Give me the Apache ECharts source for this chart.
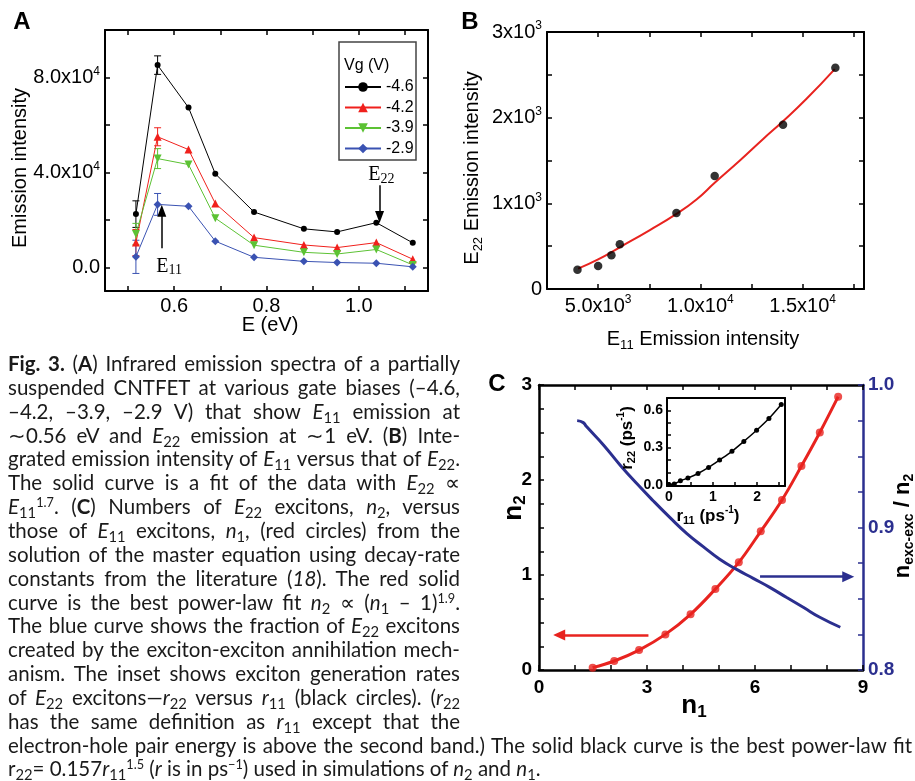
<!DOCTYPE html>
<html><head><meta charset="utf-8">
<script src="https://cdn.jsdelivr.net/npm/echarts@6/dist/echarts.min.js"></script>
<style>
html,body{margin:0;padding:0;background:#fff;}
#chart{position:absolute;left:0;top:0;width:915px;height:781px;}
#caption{position:absolute;left:0;top:0;width:915px;height:781px;pointer-events:none;font-family:Lato,'Noto Sans',sans-serif;font-size:20.5px;color:#1a1a1a;}
.ln{position:absolute;white-space:nowrap;height:24px;line-height:24px;}
.ln sub{font-size:0.72em;vertical-align:-0.3em;line-height:0;}
.ln sup{font-size:0.62em;vertical-align:0.55em;line-height:0;}
</style></head>
<body>
<div id="chart"></div>
<div id="caption"></div>
<script>
// ---------- Panel A data ----------
const energyEv = [0.517, 0.564, 0.631, 0.689, 0.773, 0.881, 0.953, 1.038, 1.117];
const vgNames = ['-4.6', '-4.2', '-3.9', '-2.9'];
const intensityVg46 = [22400, 85200, 67300, 39400, 23300, 16200, 14900, 18800, 10300];
const intensityVg42 = [10400, 55000, 49600, 26900, 12500, 9400, 8300, 10400, 3400];
const intensityVg39 = [14000, 45800, 43300, 20700, 9300, 6300, 5600, 7500, 1000];
const intensityVg29 = [4400, 26500, 25700, 11000, 4200, 2500, 2000, 1700, 200];
const errVg46 = [5600, 3900, 0, 0, 0, 0, 0, 0, 0];
const errVg42 = [5500, 3800, 0, 0, 0, 0, 0, 0, 0];
const errVg39 = [4500, 4200, 0, 0, 0, 0, 0, 0, 0];
const errVg29 = [7000, 4600, 0, 0, 0, 0, 0, 0, 0];
const tickA_x = [0.5, 0.6, 0.7, 0.8, 0.9, 1.0, 1.1];
const labelA_x = [0.6, 0.8, 1.0];
const tickA_y = [0, 20000, 40000, 60000, 80000];
const labelA_y = [0, 40000, 80000];
const labelA_yText = ['0.0', '4.0x10', '8.0x10'];
const arrowE11 = [[0.573, 8000], [0.573, 23800]];
const arrowE22 = [[1.045, 34600], [1.045, 21200]];
const labelE11Pos = [0.589, 400];
const labelE22Pos = [1.049, 38900];

// ---------- Panel B data ----------
const e11Intensity = [3990, 5000, 5650, 6060, 8830, 10700, 14040, 16600];
const e22Intensity = [226, 268, 393, 522, 887, 1319, 1918, 2583];
const fitE11 = [4020, 5000, 6060, 7530, 8830, 9810, 10700, 11930, 13070, 14040, 15190, 16570];
const fitE22 = [238, 345, 487, 688, 876, 1045, 1240, 1500, 1752, 1958, 2220, 2567];
const tickB_x = [2500, 5000, 7500, 10000, 12500, 15000, 17500];
const labelB_x = [5000, 10000, 15000];
const labelB_xText = [['5.0x10', '3'], ['1.0x10', '4'], ['1.5x10', '4']];
const tickB_y = [0, 500, 1000, 1500, 2000, 2500, 3000];
const labelB_y = [0, 1000, 2000, 3000];
const labelB_yText = [['0', ''], ['1x10', '3'], ['2x10', '3'], ['3x10', '3']];

// ---------- Panel C data ----------
const n1Sim = [1.49, 2.09, 2.78, 3.51, 4.21, 4.90, 5.55, 6.16, 6.75, 7.29, 7.80, 8.31];
const n2Sim = [0.025, 0.095, 0.21, 0.375, 0.586, 0.853, 1.133, 1.46, 1.79, 2.147, 2.50, 2.877];
const n1Frac = [1.06, 1.23, 1.32, 1.79, 2.25, 2.71, 3.17, 3.64, 4.10, 4.56, 5.02, 5.49, 5.95, 6.41, 6.87, 7.34, 7.80, 8.37];
const fracExc = [0.975, 0.9736, 0.9708, 0.9579, 0.9439, 0.931, 0.9188, 0.9069, 0.8959, 0.8866, 0.8777, 0.8706, 0.8643, 0.858, 0.851, 0.844, 0.837, 0.830];
const tickC_x = [0, 1, 2, 3, 4, 5, 6, 7, 8, 9];
const labelC_x = [0, 3, 6, 9];
const tickC_y = [0, 0.25, 0.5, 0.75, 1, 1.25, 1.5, 1.75, 2, 2.25, 2.5, 2.75, 3];
const labelC_y = [0, 1, 2, 3];
const tickC_y2 = [0.8, 0.825, 0.85, 0.875, 0.9, 0.925, 0.95, 0.975, 1.0];
const labelC_y2 = [0.8, 0.9, 1.0];
const arrowRed = [[3.04, 0.368], [0.56, 0.368]];
const arrowBlue = [[6.14, 0.8655], [8.59, 0.8655]];

// ---------- Inset data ----------
const r11 = [0, 0.12, 0.26, 0.43, 0.66, 0.90, 1.15, 1.43, 1.70, 1.99, 2.27, 2.55];
const r22 = [0.002, 0.007, 0.032, 0.054, 0.091, 0.14, 0.20, 0.27, 0.35, 0.44, 0.535, 0.648];
const tickI_x = [0, 0.5, 1, 1.5, 2, 2.5];
const labelI_x = [0, 1, 2];
const tickI_y = [0, 0.1, 0.2, 0.3, 0.4, 0.5, 0.6];
const labelI_y = [0, 0.3, 0.6];

// ---------- Styles ----------
const SANS = "'Liberation Sans', Arial, Helvetica, sans-serif";
const SERIF = "'Liberation Serif', 'Times New Roman', serif";
const RED_C = '#e8231f', BLUE_C = '#2b2f8f';
const colA = ['#000000', '#f0201c', '#5cc234', '#3a52b2'];
const symA = ['circle', 'triangle', 'path://M0,0 L10,0 L5,9 Z', 'diamond'];
const sizeA = [6, 8, 8, 8];
const valsA = [intensityVg46, intensityVg42, intensityVg39, intensityVg29];
const errsA = [errVg46, errVg42, errVg39, errVg29];

const richSup = (fs, bold) => ({
  b: {fontFamily: SANS, fontSize: fs, color: '#000', fontWeight: bold ? 'bold' : 'normal', lineHeight: fs + 4},
  s: {fontFamily: SANS, fontSize: Math.round(fs * 0.6), color: '#000', verticalAlign: 'top', lineHeight: Math.round(fs * 0.6) + 2}
});

function xAx(grid, min, max, pos, ticks, labels, fmt, extra) {
  return Object.assign({
    type: 'value', gridIndex: grid, min, max, position: pos,
    axisLine: {onZero: false, lineStyle: {color: '#000', width: 2}},
    axisTick: ticks ? {show: true, inside: true, length: 5, customValues: ticks, lineStyle: {color: '#000', width: 1.5}} : {show: false},
    axisLabel: labels ? {show: true, customValues: labels, formatter: fmt, fontFamily: SANS, fontSize: 20, color: '#000', margin: 6} : {show: false},
    splitLine: {show: false}
  }, extra || {});
}

function errSeries(vals, errs, color) {
  const data = [];
  energyEv.forEach((x, i) => { if (errs[i] > 0) data.push([x, vals[i] - errs[i], vals[i] + errs[i]]); });
  return {
    type: 'custom', xAxisIndex: 0, yAxisIndex: 0, silent: true, z: 1,
    encode: {x: 0, y: [1, 2]},
    data,
    renderItem(params, api) {
      const lo = api.coord([api.value(0), api.value(1)]);
      const hi = api.coord([api.value(0), api.value(2)]);
      const w = 3.5, st = {stroke: color, lineWidth: 1};
      return {type: 'group', children: [
        {type: 'line', shape: {x1: lo[0], y1: lo[1], x2: hi[0], y2: hi[1]}, style: st},
        {type: 'line', shape: {x1: lo[0] - w, y1: lo[1], x2: lo[0] + w, y2: lo[1]}, style: st},
        {type: 'line', shape: {x1: hi[0] - w, y1: hi[1], x2: hi[0] + w, y2: hi[1]}, style: st}
      ]};
    }
  };
}

function arrowLine(pts, color, width, head) {
  return {
    silent: true, animation: false, label: {show: false},
    lineStyle: {color, width, type: 'solid'},
    data: [[{coord: pts[0], symbol: 'none'}, {coord: pts[1], symbol: 'triangle', symbolSize: head}]]
  };
}

const seriesA = vgNames.map((name, k) => ({
  name, type: 'line', xAxisIndex: 0, yAxisIndex: 0,
  data: energyEv.map((x, i) => [x, valsA[k][i]]),
  symbol: symA[k], symbolSize: sizeA[k], showAllSymbol: true,
  lineStyle: {color: colA[k], width: 1}, itemStyle: {color: colA[k]}, z: 3,
  animation: false
}));
seriesA[0].markLine = {
  silent: true, animation: false, label: {show: false}, lineStyle: {color: '#000', width: 1.5, type: 'solid'},
  data: [
    [{coord: arrowE11[0], symbol: 'none'}, {coord: arrowE11[1], symbol: 'triangle', symbolSize: [9, 12]}],
    [{coord: arrowE22[0], symbol: 'none'}, {coord: arrowE22[1], symbol: 'triangle', symbolSize: [9, 12]}]
  ]
};
const serifRich = {
  e: {fontFamily: SERIF, fontSize: 20, color: '#000', lineHeight: 22},
  s: {fontFamily: SERIF, fontSize: 14, color: '#000', verticalAlign: 'bottom', lineHeight: 14}
};
seriesA[0].markPoint = {
  silent: true, animation: false, symbol: 'circle', symbolSize: 0,
  data: [
    {coord: labelE11Pos, label: {show: true, position: 'inside', formatter: '{e|E}{s|11}', rich: serifRich}},
    {coord: labelE22Pos, label: {show: true, position: 'inside', formatter: '{e|E}{s|22}', rich: serifRich}}
  ]
};

const boldRich = (fs, color) => ({
  b: {fontFamily: SANS, fontSize: fs, fontWeight: 'bold', color, lineHeight: fs + 4},
  sub: {fontFamily: SANS, fontSize: Math.round(fs * 0.65), fontWeight: 'bold', color, verticalAlign: 'bottom', lineHeight: Math.round(fs * 0.65)},
  sup: {fontFamily: SANS, fontSize: Math.round(fs * 0.6), fontWeight: 'bold', color, verticalAlign: 'top', lineHeight: Math.round(fs * 0.6)}
});
const plainRich = (fs) => ({
  b: {fontFamily: SANS, fontSize: fs, color: '#000', lineHeight: fs + 6},
  sub: {fontFamily: SANS, fontSize: Math.round(fs * 0.65), color: '#000', verticalAlign: 'bottom', lineHeight: Math.round(fs * 0.65)}
});

function gtext(x, y, text, opt) {
  opt = opt || {};
  return {
    type: 'text', x, y, rotation: opt.rot || 0, z: 100, silent: true,
    style: {
      text, align: opt.align || 'center', verticalAlign: 'middle',
      fontFamily: SANS, fontSize: opt.fs || 20, fontWeight: opt.bold ? 'bold' : 'normal',
      fill: opt.color || '#000', rich: opt.rich
    }
  };
}

const option = {
  animation: false,
  backgroundColor: 'transparent',
  grid: [
    {left: 105, top: 30, width: 323, height: 261},
    {left: 547, top: 32, width: 317, height: 257},
    {left: 539, top: 385, width: 324, height: 285},
    {left: 667, top: 398, width: 118, height: 88, show: true, backgroundColor: '#fff', borderWidth: 0, z: 5}
  ],
  legend: {
    data: vgNames, orient: 'vertical', left: 344, top: 79, padding: 0,
    itemWidth: 36, itemHeight: 12, itemGap: 4.5, selectedMode: false,
    textStyle: {fontFamily: SANS, fontSize: 16, color: '#000', lineHeight: 12}
  },
  xAxis: [
    xAx(0, 0.45, 1.15, 'bottom', tickA_x, labelA_x, v => v.toFixed(1)),
    xAx(0, 0.45, 1.15, 'top', tickA_x, null),
    xAx(1, 2500, 18000, 'bottom', tickB_x, labelB_x, v => {
      const t = labelB_xText[labelB_x.indexOf(v)]; return '{b|' + t[0] + '}{s|' + t[1] + '}';
    }, {}),
    xAx(1, 2500, 18000, 'top', tickB_x, null),
    xAx(2, 0, 9, 'bottom', tickC_x, labelC_x, v => String(v)),
    xAx(2, 0, 9, 'top', tickC_x, null),
    xAx(3, -0.045, 2.635, 'bottom', tickI_x, labelI_x, v => String(v)),
    xAx(3, -0.045, 2.635, 'top', null, null)
  ],
  yAxis: [
    xAx(0, -10000, 100000, 'left', tickA_y, labelA_y, v => {
      const t = labelA_yText[labelA_y.indexOf(v)]; return v === 0 ? '{b|' + t + '}' : '{b|' + t + '}{s|4}';
    }),
    xAx(0, -10000, 100000, 'right', tickA_y, null),
    xAx(1, 0, 3000, 'left', tickB_y, labelB_y, v => {
      const t = labelB_yText[labelB_y.indexOf(v)]; return t[1] ? '{b|' + t[0] + '}{s|' + t[1] + '}' : '{b|' + t[0] + '}';
    }),
    xAx(1, 0, 3000, 'right', tickB_y, null),
    xAx(2, 0, 3, 'left', tickC_y, labelC_y, v => String(v)),
    xAx(2, 0.8, 1.0, 'right', tickC_y2, labelC_y2, v => v.toFixed(1)),
    xAx(3, -0.01, 0.70, 'left', tickI_y, labelI_y, v => v.toFixed(1)),
    xAx(3, -0.01, 0.70, 'right', null, null)
  ],
  series: [
    ...errsA.map((e, k) => errSeries(valsA[k], e, colA[k])),
    ...seriesA,
    {type: 'line', xAxisIndex: 2, yAxisIndex: 2, data: fitE11.map((x, i) => [x, fitE22[i]]),
      smooth: 0.5, showSymbol: false, lineStyle: {color: RED_C, width: 2}, z: 2},
    {type: 'scatter', xAxisIndex: 2, yAxisIndex: 2, data: e11Intensity.map((x, i) => [x, e22Intensity[i]]),
      symbol: 'circle', symbolSize: 8.5, itemStyle: {color: '#000'}, z: 3},
    {type: 'line', xAxisIndex: 4, yAxisIndex: 4, data: n1Sim.map((x, i) => [x, n2Sim[i]]),
      smooth: 0.4, showSymbol: false, lineStyle: {color: RED_C, width: 3}, z: 3,
      markLine: arrowLine(arrowRed, RED_C, 2.5, [11, 12])},
    {type: 'scatter', xAxisIndex: 4, yAxisIndex: 4, data: n1Sim.map((x, i) => [x, n2Sim[i]]),
      symbol: 'circle', symbolSize: 8, itemStyle: {color: RED_C}, z: 4},
    {type: 'line', xAxisIndex: 4, yAxisIndex: 5, data: n1Frac.map((x, i) => [x, fracExc[i]]),
      smooth: 0.5, showSymbol: false, lineStyle: {color: BLUE_C, width: 3}, z: 3,
      markLine: arrowLine(arrowBlue, BLUE_C, 2.5, [11, 12])},
    {type: 'line', xAxisIndex: 6, yAxisIndex: 6, data: r11.map((x, i) => [x, r22[i]]),
      smooth: 0.3, symbol: 'circle', symbolSize: 5, showAllSymbol: true,
      lineStyle: {color: '#000', width: 1.5}, itemStyle: {color: '#000'}, z: 10}
  ],
  graphic: [
    {type: 'rect', shape: {x: 339, y: 42, width: 77, height: 118}, style: {fill: 'none', stroke: '#444', lineWidth: 1.5}, z: 50, silent: true},
    gtext(344, 66, 'Vg (V)', {fs: 16, align: 'left'}),
    gtext(22, 22, 'A', {fs: 24, bold: true}),
    gtext(470, 22, 'B', {fs: 24, bold: true}),
    gtext(497, 384, 'C', {fs: 24, bold: true}),
    gtext(20, 168, 'Emission intensity', {fs: 20, rot: Math.PI / 2}),
    gtext(270, 325, 'E (eV)', {fs: 20}),
    gtext(472, 168, '{b|E}{sub|22}{b| Emission intensity}', {rot: Math.PI / 2, rich: plainRich(20)}),
    gtext(703, 339, '{b|E}{sub|11}{b| Emission intensity}', {rich: plainRich(20)}),
    gtext(514, 508, '{b|n}{sub|2}', {rot: Math.PI / 2, rich: boldRich(26, '#000')}),
    gtext(694, 706, '{b|n}{sub|1}', {rich: boldRich(26, '#000')}),
    gtext(903, 526, '{b|n}{sub|exc-exc}{b| / n}{sub|2}', {rot: Math.PI / 2, rich: boldRich(22, BLUE_C)}),
    gtext(627, 438, '{b|r}{sub|22}{b| (ps}{sup|-1}{b|)}', {rot: Math.PI / 2, rich: boldRich(17, '#000')}),
    gtext(708, 516, '{b|r}{sub|11}{b| (ps}{sup|-1}{b|)}', {rich: boldRich(17, '#000')})
  ]
};

// Panel A/B tick label rich styles
option.yAxis[0].axisLabel.rich = richSup(20, false);
option.yAxis[0].axisLabel.margin = 5;
option.xAxis[0].axisLabel.margin = 5;
option.yAxis[2].axisLabel.rich = richSup(20, false);
option.yAxis[2].axisLabel.margin = 5;
option.xAxis[2].axisLabel.rich = richSup(20, false);
option.xAxis[2].axisLabel.margin = 5;
// Panel C styles
[4].forEach(i => { option.xAxis[i].axisLabel.fontWeight = 'bold'; option.xAxis[i].axisLabel.fontSize = 19; option.xAxis[i].axisLabel.margin = 8; option.xAxis[i].axisLine.lineStyle.width = 2.5; });
option.xAxis[5].axisLine.lineStyle.width = 2.5;
option.yAxis[4].axisLabel.fontWeight = 'bold'; option.yAxis[4].axisLabel.fontSize = 19; option.yAxis[4].axisLabel.margin = 7;
option.yAxis[4].axisLine.lineStyle.width = 2.5;
const yr = option.yAxis[5];
yr.axisLine.lineStyle = {color: BLUE_C, width: 2.5};
yr.axisTick.lineStyle = {color: BLUE_C, width: 1.5};
yr.axisLabel.color = BLUE_C; yr.axisLabel.fontWeight = 'bold'; yr.axisLabel.fontSize = 19; yr.axisLabel.margin = 5;
// Inset styles
[option.xAxis[6], option.yAxis[6]].forEach(a => { a.axisLabel.fontWeight = 'bold'; a.axisLabel.fontSize = 14; a.axisLabel.margin = 4; a.axisTick.length = 4; });
[6, 7].forEach(i => { option.xAxis[i].axisLine.lineStyle.width = 2; option.yAxis[i].axisLine.lineStyle.width = 2; });
[6, 7].forEach(i => { option.xAxis[i].z = 8; option.yAxis[i].z = 8; });

const chart = echarts.init(document.getElementById('chart'), null, {renderer: 'canvas'});
chart.setOption(option);

// ---------- Caption ----------
const capLines = [
  '<b>Fig. 3.</b> (<b>A</b>) Infrared emission spectra of a partially',
  'suspended CNTFET at various gate biases (–4.6,',
  '–4.2, –3.9, –2.9 V) that show <i>E</i><sub>11</sub> emission at',
  '∼0.56 eV and <i>E</i><sub>22</sub> emission at ∼1 eV. (<b>B</b>) Inte-',
  'grated emission intensity of <i>E</i><sub>11</sub> versus that of <i>E</i><sub>22</sub>.',
  'The solid curve is a fit of the data with <i>E</i><sub>22</sub> ∝',
  '<i>E</i><sub>11</sub><sup>1.7</sup>. (<b>C</b>) Numbers of <i>E</i><sub>22</sub> excitons, <i>n</i><sub>2</sub>, versus',
  'those of <i>E</i><sub>11</sub> excitons, <i>n</i><sub>1</sub>, (red circles) from the',
  'solution of the master equation using decay-rate',
  'constants from the literature (<i>18</i>). The red solid',
  'curve is the best power-law fit <i>n</i><sub>2</sub> ∝ (<i>n</i><sub>1</sub> – 1)<sup>1.9</sup>.',
  'The blue curve shows the fraction of <i>E</i><sub>22</sub> excitons',
  'created by the exciton-exciton annihilation mech-',
  'anism. The inset shows exciton generation rates',
  'of <i>E</i><sub>22</sub> excitons—<i>r</i><sub>22</sub> versus <i>r</i><sub>11</sub> (black circles). (<i>r</i><sub>22</sub>',
  'has the same definition as <i>r</i><sub>11</sub> except that the',
  'electron-hole pair energy is above the second band.) The solid black curve is the best power-law fit',
  'r<sub>22</sub>= 0.157<i>r</i><sub>11</sub><sup>1.5</sup> (<i>r</i> is in ps<sup>−1</sup>) used in simulations of <i>n</i><sub>2</sub> and <i>n</i><sub>1</sub>.'
];
const cap = document.getElementById('caption');
const spans = [];
capLines.forEach((html, i) => {
  const d = document.createElement('div');
  d.className = 'ln';
  d.style.left = '8px';
  d.style.top = (351 + i * 23.85) + 'px';
  const s = document.createElement('span');
  s.innerHTML = html;
  d.appendChild(s);
  cap.appendChild(d);
  spans.push(s);
});
function justify() {
  spans.forEach((s, i) => {
    const target = i < 16 ? 452 : (i === 16 ? 904 : 0);
    if (!target) return;
    s.style.letterSpacing = '0px'; s.style.wordSpacing = '0px';
    let w = s.getBoundingClientRect().width;
    const text = s.textContent;
    const spaces = (text.match(/ /g) || []).length;
    if (w > target) {
      s.style.letterSpacing = ((target - w) / text.length) + 'px';
      w = s.getBoundingClientRect().width;
    }
    if (spaces) s.style.wordSpacing = ((target - w) / spaces) + 'px';
  });
}
justify();
if (document.fonts && document.fonts.ready) document.fonts.ready.then(justify);
</script>
</body></html>
